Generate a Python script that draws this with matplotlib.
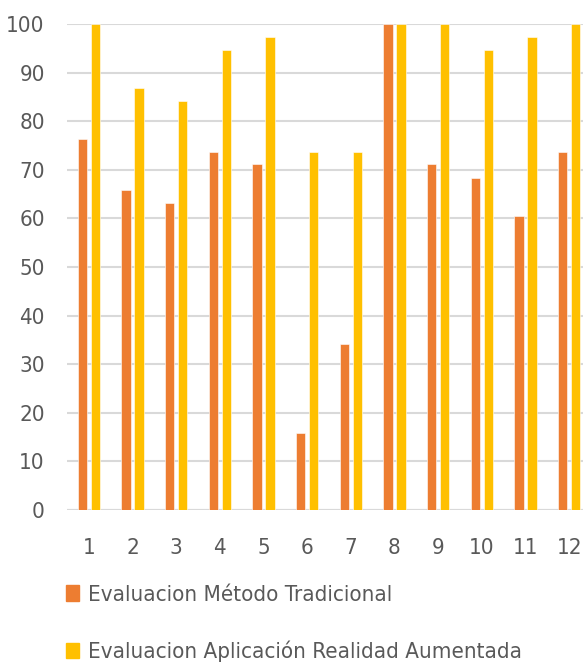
import matplotlib
matplotlib.use("Agg")
import matplotlib.pyplot as plt
import numpy as np
from matplotlib.patches import Patch
from matplotlib import font_manager as fm

categories = ["1", "2", "3", "4", "5", "6", "7", "8", "9", "10", "11", "12"]
tradicional = [76.3, 65.8, 63.2, 73.7, 71.1, 15.8, 34.2, 100, 71.1, 68.4, 60.5, 73.7]
aumentada = [100, 86.8, 84.2, 94.7, 97.4, 73.7, 73.7, 100, 100, 94.7, 97.4, 100]
series_names = ["Evaluacion Método Tradicional", "Evaluacion Aplicación Realidad Aumentada"]
yticks = [0, 10, 20, 30, 40, 50, 60, 70, 80, 90, 100]

plt.rcParams['font.family'] = ['DejaVu Sans']
plt.rcParams['font.stretch'] = 'condensed'

W, H = 583, 664
fig = plt.figure(figsize=(W / 100, H / 100), dpi=100)
ax = fig.add_axes([67 / W, 154 / H, 524 / W, 486 / H])

orange = "#ED7D31"
yellow = "#FFC000"
text_c = "#595959"

x = np.arange(len(categories))
bw = 0.215
off = 0.15
ax.bar(x - off, tradicional, bw, color=orange, edgecolor="white", linewidth=0.4, zorder=3)
ax.bar(x + off, aumentada, bw, color=yellow, edgecolor="white", linewidth=0.4, zorder=3)

ax.set_xlim(-0.5, len(categories) - 0.5)
ax.set_ylim(0, 100)
ax.set_yticks(yticks)
ax.set_xticks(x)
ax.set_xticklabels(categories)
ax.grid(axis="y", color="#D9D9D9", linewidth=1.5, zorder=0)
for s in ax.spines.values():
    s.set_visible(False)
ax.axhline(0, color="#D9D9D9", linewidth=1.5, zorder=2)
ax.tick_params(axis="both", length=0, labelsize=16, colors=text_c)
ax.tick_params(axis="y", pad=16)
ax.tick_params(axis="x", pad=20)

handles = [Patch(color=orange), Patch(color=yellow)]
fig.legend(handles, series_names, loc="upper left", bbox_to_anchor=(66 / W, 1 - 585 / H),
           frameon=False, fontsize=16, labelcolor=text_c, handlelength=0.6, handleheight=0.7,
           handletextpad=0.4, labelspacing=1.6, borderpad=0, borderaxespad=0)

fig.savefig("out.png", dpi=100)
